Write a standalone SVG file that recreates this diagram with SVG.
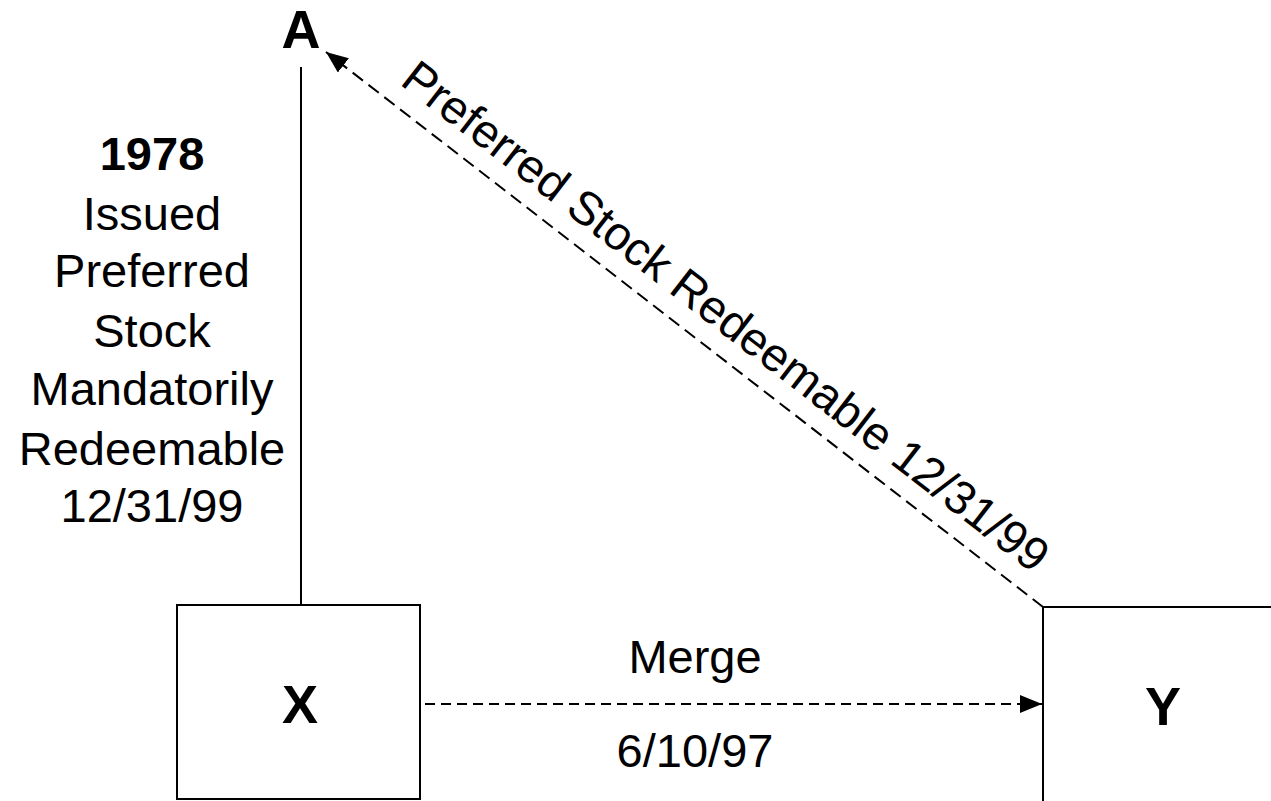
<svg xmlns="http://www.w3.org/2000/svg" width="1271" height="801" viewBox="0 0 1271 801">
<style>
text{font-family:"Liberation Sans",Arial,sans-serif;fill:#000}
.lbl{font-size:47px;text-anchor:middle}
.big{font-size:54px;font-weight:bold;text-anchor:middle}
.box{fill:#fff;stroke:#000;stroke-width:2}
.ln{stroke:#000;stroke-width:2;fill:none}
</style>
<defs>
<marker id="ah" viewBox="0 0 22 18" refX="22" refY="9" markerWidth="22" markerHeight="18" markerUnits="userSpaceOnUse" orient="auto">
<path d="M0,0 L22,9 L0,18 Z" fill="#000"/>
</marker>
</defs>
<rect width="1271" height="801" fill="#fff"/>
<g id="connectors">
<line class="ln" x1="301" y1="67" x2="301" y2="605"/>
<line class="ln" x1="425" y1="704" x2="1042" y2="704" stroke-dasharray="10 6" marker-end="url(#ah)"/>
<line class="ln" x1="1043" y1="607" x2="326" y2="52" stroke-dasharray="13 7" marker-end="url(#ah)"/>
</g>
<g id="node-A">
<text class="big" x="301" y="48">A</text>
</g>
<g id="node-X">
<rect class="box" x="177" y="605" width="243" height="194"/>
<text class="big" x="300" y="723">X</text>
</g>
<g id="node-Y">
<rect class="box" x="1043" y="607" width="300" height="300"/>
<text class="big" x="1163" y="725">Y</text>
</g>
<g id="labels">
<text class="lbl" x="152" y="170" font-weight="bold">1978</text>
<text class="lbl" x="152" y="230">Issued</text>
<text class="lbl" x="152" y="287">Preferred</text>
<text class="lbl" x="152" y="347">Stock</text>
<text class="lbl" x="152" y="405">Mandatorily</text>
<text class="lbl" x="152" y="465">Redeemable</text>
<text class="lbl" x="152" y="522">12/31/99</text>
<text class="lbl" x="695" y="673">Merge</text>
<text class="lbl" x="695" y="767">6/10/97</text>
<text class="lbl" transform="translate(716 329) rotate(37.7)">Preferred Stock Redeemable 12/31/99</text>
</g>
</svg>
